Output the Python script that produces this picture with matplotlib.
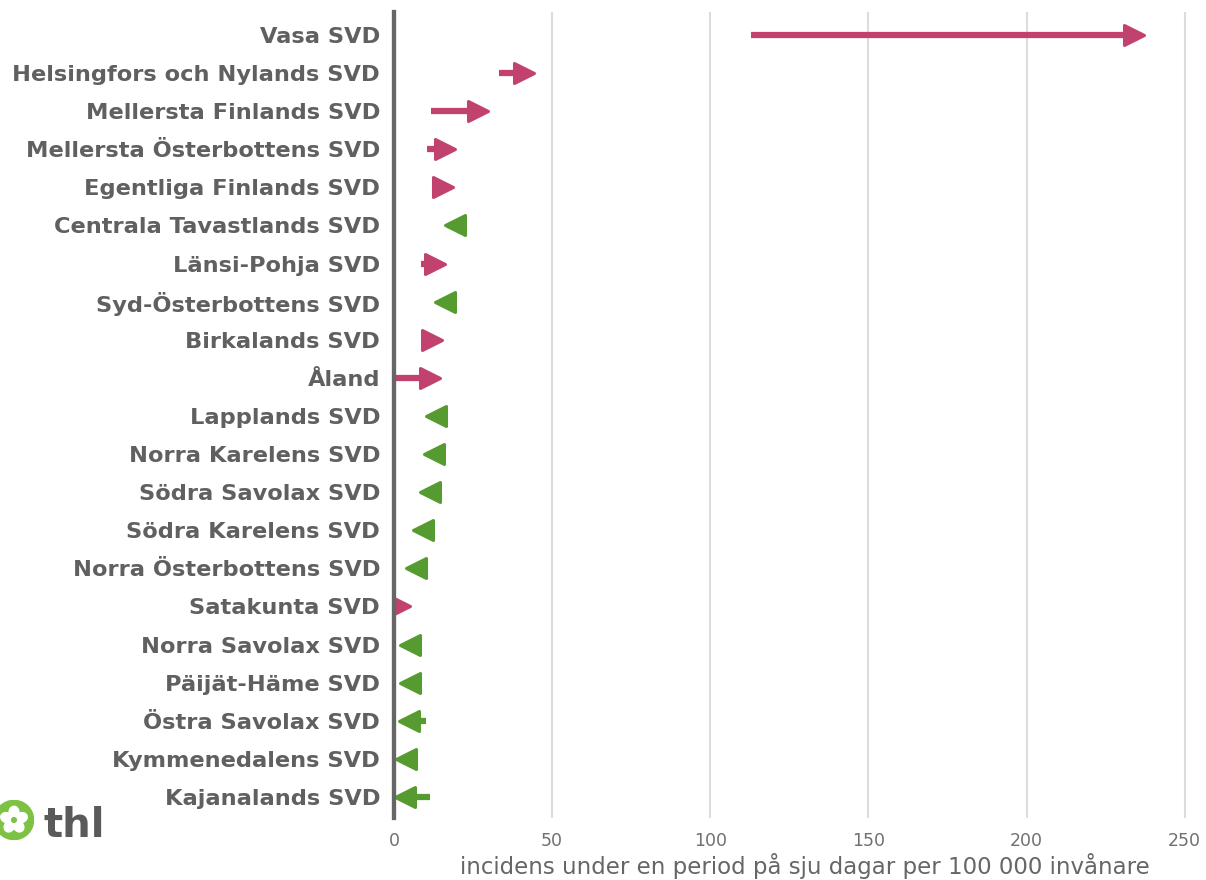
import matplotlib
matplotlib.use("Agg")
import matplotlib.pyplot as plt
from matplotlib.patches import Circle, Ellipse
from matplotlib.markers import MarkerStyle
import numpy as np

plt.rcParams['font.family'] = ['DejaVu Sans']

# regions, top to bottom
regions = ["Vasa SVD", "Helsingfors och Nylands SVD", "Mellersta Finlands SVD",
           "Mellersta Österbottens SVD", "Egentliga Finlands SVD", "Centrala Tavastlands SVD",
           "Länsi-Pohja SVD", "Syd-Österbottens SVD", "Birkalands SVD", "Åland",
           "Lapplands SVD", "Norra Karelens SVD", "Södra Savolax SVD", "Södra Karelens SVD",
           "Norra Österbottens SVD", "Satakunta SVD", "Norra Savolax SVD", "Päijät-Häme SVD",
           "Östra Savolax SVD", "Kymmenedalens SVD", "Kajanalands SVD"]
# incidence previous period (arrow start) and latest period (arrow tip)
previous = [112.8, 33.2, 11.6, 10.4, 15.0, 20.0, 8.4, 18.0, 12.0, 0.0,
            15.0, 14.0, 13.0, 11.0, 8.5, 1.0, 6.0, 6.0, 10.0, 5.5, 11.3]
latest = [237.0, 44.2, 29.6, 19.3, 18.5, 16.1, 16.1, 13.0, 15.0, 14.5,
          10.3, 9.5, 8.2, 6.1, 3.8, 4.8, 2.1, 2.1, 1.7, 0.8, 0.5]

pink = "#c1416f"
green = "#559b30"
grey = "#606060"

W, H = 1206, 880
fig = plt.figure(figsize=(W / 100, H / 100), dpi=100)
ax = fig.add_axes([394 / W, 1 - 818 / H, (1191 - 394) / W, (818 - 12) / H])
xmax = 252
ax.set_xlim(0, xmax)
ax.set_ylim(len(regions) - 0.45, -0.6)

# arrow head size in points, converted to data units along x
head = 13.8
ax_w_pt = (1191 - 394) / 100 * 72
head_dx = head * xmax / ax_w_pt

y = np.arange(len(regions))
for yi, a, b in zip(y, previous, latest):
    col = pink if b > a else green
    d = 1 if b > a else -1
    ax.plot([a, b - d * head_dx / 2], [yi, yi], color=col, lw=4.5,
            solid_capstyle="butt", zorder=2)
    ax.plot([b - d * head_dx / 2], [yi], ls="none", color=col,
            marker=MarkerStyle(">" if d > 0 else "<", joinstyle="round"),
            markersize=head, markeredgewidth=2.2, markeredgecolor=col, zorder=2)

ax.set_xticks([0, 50, 100, 150, 200, 250])
ax.set_yticks(y)
ax.set_yticklabels(regions, fontsize=16.2, fontweight="bold", color=grey)
ax.tick_params(axis="both", length=0)
ax.tick_params(axis="y", pad=10)
ax.tick_params(axis="x", pad=10, labelsize=12.5, labelcolor="#707070")
ax.grid(axis="x", color="#dcdcdc", lw=1.5)
ax.set_axisbelow(True)
for s in ["top", "right", "bottom"]:
    ax.spines[s].set_visible(False)
ax.spines["left"].set_color("#666666")
ax.spines["left"].set_linewidth(3.1)
ax.spines["left"].set_zorder(3)
ax.set_xlabel("incidens under en period på sju dagar per 100 000 invånare",
              fontsize=16.5, color="#666666")
ax.xaxis.set_label_coords(0.516, -0.043)

# thl logo
lax = fig.add_axes([-6 / W, 1 - 840 / H, 40 / W, 40 / H])
lax.set_xlim(-1.02, 1.02)
lax.set_ylim(-1.02, 1.02)
lax.set_aspect("equal")
lax.axis("off")
lax.add_patch(Circle((0, 0), 1.0, color="#7dc242"))
for k in range(5):
    ang = np.pi / 2 + k * 2 * np.pi / 5
    lax.add_patch(Ellipse((0.4 * np.cos(ang), 0.4 * np.sin(ang)), 0.5, 0.6,
                          angle=np.degrees(ang) - 90, color="white"))
lax.add_patch(Circle((0, 0), 0.12, color="#7dc242"))
fig.text(44 / W, 1 - 837 / H, "thl", fontsize=29, fontweight="bold",
         color="#5a5a5a", va="baseline", ha="left")

fig.savefig("out.png", dpi=100)
